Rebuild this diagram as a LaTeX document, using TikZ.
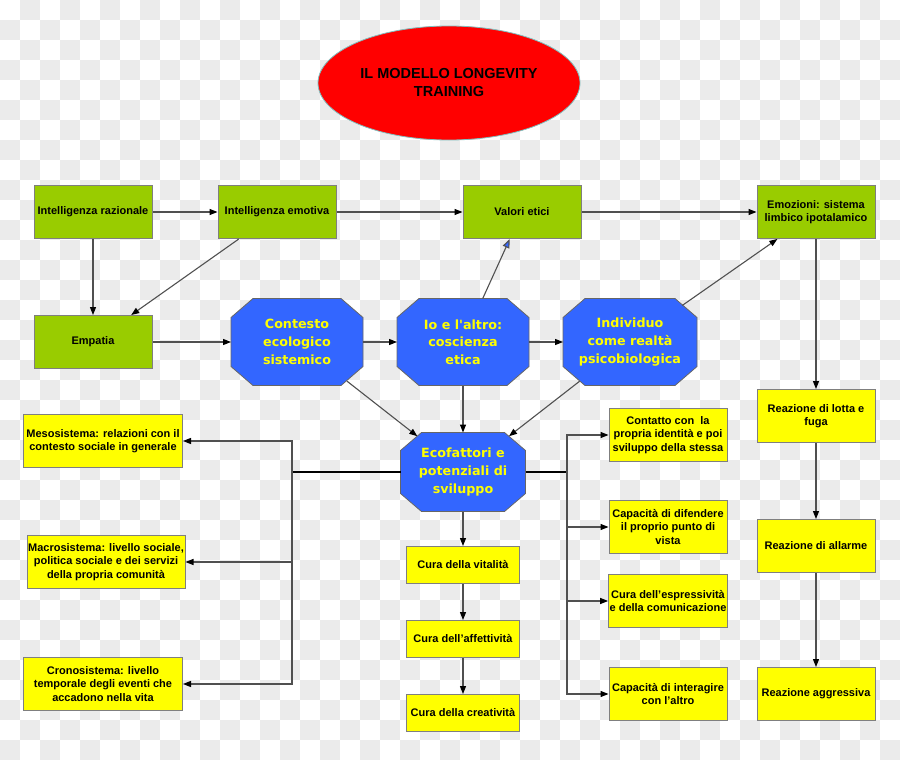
\documentclass[tikz,border=0pt]{standalone}
\usepackage{fontspec}
\setmainfont{Liberation Sans}
\newfontfamily\octafont{DejaVu Sans}
\usetikzlibrary{arrows.meta,calc,shapes.geometric,backgrounds}
\definecolor{boxgreen}{HTML}{99CC00}
\definecolor{boxyellow}{HTML}{FFFF00}
\definecolor{octblue}{HTML}{3366FF}
\definecolor{linegray}{HTML}{505050}
\definecolor{bordergray}{HTML}{7F7F7F}
\definecolor{checkgray}{HTML}{EBEBEB}

\begin{document}
\begin{tikzpicture}[x=1pt,y=-1pt,
    greenbox/.style={rectangle,fill=boxgreen,draw=bordergray,line width=1pt,minimum width=118pt,minimum height=53pt,inner sep=1pt,align=center,font=\bfseries\fontsize{11}{13.5}\selectfont},
    yellowbox/.style={greenbox,fill=boxyellow},
    octa/.style={rectangle,outer sep=0pt,minimum width=132pt,minimum height=87pt,align=center,text=boxyellow,font=\octafont\bfseries\fontsize{12.7}{17.7}\selectfont},
    octashape/.style={fill=octblue,draw=black!60,line width=.8pt},
    link/.style={draw=linegray,line width=1.1pt,-{Triangle[length=8pt,width=6pt,color=black]}},
    trunk/.style={draw=black,line width=1.6pt}]
    \useasboundingbox (0,0) rectangle (900,760);

    \node[ellipse,fill=red,draw=teal!50,line width=.8pt,inner sep=0pt,minimum width=262pt,minimum height=114pt,align=center,font=\bfseries\fontsize{14.5}{18}\selectfont] (title) at (449,83) {IL MODELLO LONGEVITY\\TRAINING};

    \node[greenbox] (razionale) at (93,212) {Intelligenza razionale};
    \node[greenbox] (emotiva) at (277,212) {Intelligenza emotiva};
    \node[greenbox] (valori) at (522,212) {Valori etici};
    \node[greenbox] (emozioni) at (816,212) {Emozioni: sistema\\limbico ipotalamico};
    \node[greenbox] (empatia) at (93,342) {Empatia};

    \node[octa] (contesto) at (297,342) {Contesto\\ecologico\\sistemico};
    \node[octa] (io) at (463,342) {Io e l'altro:\\coscienza\\etica};
    \node[octa,minimum width=134pt] (individuo) at (630,342) {Individuo\\come realtà\\psicobiologica};
    \node[octa,minimum width=125pt,minimum height=79pt] (ecofattori) at (463,472) {Ecofattori e\\potenziali di\\sviluppo};

    \node[yellowbox,minimum width=159pt] (meso) at (103,441) {Mesosistema: relazioni con il\\contesto sociale in generale};
    \node[yellowbox,minimum width=158pt] (macro) at (106,562) {Macrosistema: livello sociale,\\politica sociale e dei servizi\\della propria comunità};
    \node[yellowbox,minimum width=159pt] (crono) at (103,684) {Cronosistema: livello\\temporale degli eventi che\\accadono nella vita};

    \node[yellowbox,minimum width=113pt,minimum height=37pt] (vitalita) at (463,565) {Cura della vitalità};
    \node[yellowbox,minimum width=113pt,minimum height=37pt] (affettivita) at (463,639) {Cura dell'affettività};
    \node[yellowbox,minimum width=113pt,minimum height=37pt] (creativita) at (463,713) {Cura della creatività};

    \node[yellowbox] (contatto) at (668,435) {Contatto con\ \ la\\propria identità e poi\\sviluppo della stessa};
    \node[yellowbox] (difendere) at (668,527) {Capacità di difendere\\il proprio punto di\\vista};
    \node[yellowbox] (espressivita) at (668,601) {Cura dell'espressività\\e della comunicazione};
    \node[yellowbox] (interagire) at (668,694) {Capacità di interagire\\con l'altro};

    \node[yellowbox] (lotta) at (816,416) {Reazione di lotta e\\fuga};
    \node[yellowbox] (allarme) at (816,546) {Reazione di allarme};
    \node[yellowbox] (aggressiva) at (816,694) {Reazione aggressiva};

    \coordinate (lbus) at (292,472);
    \coordinate (rbus) at (567,472);

    \draw[link] (razionale) -- (emotiva);
    \draw[link] (emotiva) -- (valori);
    \draw[link] (valori) -- (emozioni);
    \draw[link] (razionale) -- (empatia);
    \draw[link] (emotiva) -- (empatia);
    \draw[link] (empatia) -- (contesto);
    \draw[link] (contesto) -- (io);
    \draw[link] (io) -- (individuo);
    \draw[link,-{Triangle[length=9pt,width=7pt,fill=octblue]}] (io) -- (valori);
    \draw[link,shorten <=-12pt] (individuo) -- (emozioni);
    \draw[link,shorten <=-7pt,shorten >=-6pt] (contesto) -- (ecofattori);
    \draw[link] (io) -- (ecofattori);
    \draw[link,shorten <=-7pt,shorten >=-6pt] (individuo) -- (ecofattori);
    \draw[link] (ecofattori) -- (vitalita);
    \draw[link] (vitalita) -- (affettivita);
    \draw[link] (affettivita) -- (creativita);
    \draw[link] (emozioni) -- (lotta);
    \draw[link] (lotta) -- (allarme);
    \draw[link] (allarme) -- (aggressiva);
    \draw[trunk] (ecofattori) -- (lbus);
    \draw[trunk] (ecofattori) -- (rbus);
    \foreach \t in {meso,macro,crono}
        \draw[link] (lbus) |- (\t);
    \foreach \t in {contatto,difendere,espressivita,interagire}
        \draw[link] (rbus) |- (\t);

    \begin{scope}[on background layer]
        \fill[white] (0,0) rectangle (900,760);
        \foreach \j in {0,2,...,36}
            \foreach \i in {1,3,...,45} {
                \fill[checkgray] (20*\i,20*\j) rectangle ++(20,20);
                \fill[checkgray] (20*\i-20,20*\j+20) rectangle ++(20,20);
            }
        \foreach \n/\cx/\cy in {contesto/22/19,io/22/19,individuo/22/19,ecofattori/21/18}
            \filldraw[octashape] ([xshift=\cx pt]\n.north west) -- ([xshift=-\cx pt]\n.north east) -- ([yshift=-\cy pt]\n.north east) -- ([yshift=\cy pt]\n.south east) -- ([xshift=-\cx pt]\n.south east) -- ([xshift=\cx pt]\n.south west) -- ([yshift=\cy pt]\n.south west) -- ([yshift=-\cy pt]\n.north west) -- cycle;
    \end{scope}
\end{tikzpicture}
\end{document}
